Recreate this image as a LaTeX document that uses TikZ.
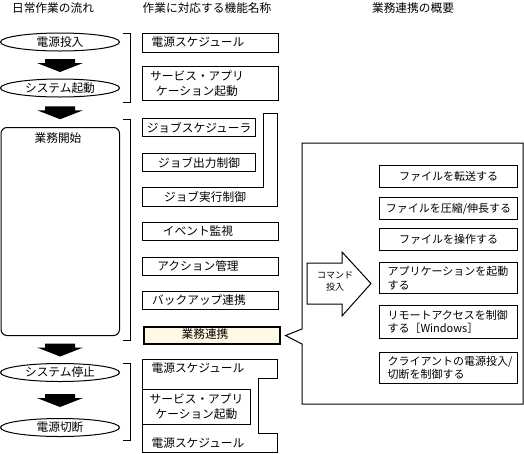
\documentclass[tikz,border=0pt]{standalone}
\usepackage{fontspec}
\setmainfont{Noto Sans CJK JP}
\usetikzlibrary{shapes.geometric, calc}
\definecolor{cream}{RGB}{255,248,226}

\begin{document}
\begin{tikzpicture}[x=1pt, y=-1pt, line width=1pt,
  every node/.style={font=\fontsize{11.7}{15}\selectfont, inner sep=0pt},
  flow/.style={draw, ellipse, minimum width=119pt, minimum height=18pt},
  fbox/.style={draw, anchor=north west, minimum width=135.5pt, minimum height=19pt},
  jbox/.style={draw, anchor=north west, minimum width=113pt, minimum height=18pt},
  rbox/.style={draw, anchor=north west, minimum width=138pt, minimum height=22pt, font=\fontsize{11}{13.5}\selectfont},
  rtwo/.style={rbox, minimum height=31pt, text width=122pt, inner xsep=8pt, align=left}]
  \path[fill=white] (0,0) rectangle (524,453);

  % 見出し
  \node (flowT) at (53,8) {日常作業の流れ};
  \node (funcT) at (207,8) {作業に対応する機能名称};
  \node (bizT) at (413,8) {業務連携の概要};

  % 日常作業の流れ
  \node[flow] (power) at (60,42) {電源投入};
  \node[flow] (boot) at (60,88) {システム起動};
  \node[draw, rounded corners=6pt, anchor=north west, minimum width=118.5pt, minimum height=208pt] (work) at (0.5,127) {};
  \node (workT) at (58,138) {業務開始};
  \node[flow] (halt) at (60,372.5) {システム停止};
  \node[flow] (off) at (60,427.5) {電源切断};
  \foreach \a/\b in {power/boot, boot/work, work/halt, halt/off}
    \fill[shift={($(\a.south)!0.5!(\b.north)$)}] (-15,-6) -- (15,-6) -- (15,-2) -- (23,-2) -- (0,7) -- (-23,-2) -- (-15,-2) -- cycle;
  \foreach \t/\b in {33/102, 119/340, 363/440}
    \draw (123,\t) -| (130,\b) -- (123,\b);

  % 作業に対応する機能
  \node[fbox] (pwrA) at (142,33) {};
  \node (pwrAt) at (198,42.5) {電源スケジュール};
  \node[fbox, minimum height=34pt] (svcA) at (142,66) {};
  \node[align=center] (svcAt) at (197,84) {サービス・アプリ\\ケーション起動};

  \draw (263,113) -- (277,113) -- (277,206) -- (142,206) -- (142,187) -- (263,187) -- cycle;
  \node (jexT) at (205,197) {ジョブ実行制御};
  \node[jbox] (jsch) at (142,118) {ジョブスケジューラ};
  \node[jbox] (jout) at (142,153) {ジョブ出力制御};

  \node[fbox, minimum height=18pt] (evt) at (142,222) {};
  \node (evtT) at (198,231) {イベント監視};
  \node[fbox, minimum height=18pt] (act) at (142,257) {};
  \node (actT) at (198,266) {アクション管理};
  \node[fbox, minimum height=18pt] (bkp) at (142,291) {};
  \node (bkpT) at (199,300) {バックアップ連携};
  \node[fbox, line width=2pt, fill=cream, minimum height=17pt] (biz) at (143,326) {};
  \node (bizM) at (205,334.5) {業務連携};

  \draw (142,359) -- (277,359) -- (277,378) -- (258,378) -- (258,433) -- (277,433) -- (277,452) -- (142,452) -- cycle;
  \node (pwrBt) at (198,368) {電源スケジュール};
  \node[draw, anchor=north west, minimum width=108pt, minimum height=35pt, align=center] (svcB) at (142,389) {サービス・アプリ\\ケーション起動};
  \node (pwrCt) at (198,443) {電源スケジュール};

  % 業務連携の概要
  \coordinate (tip) at ([xshift=5pt]biz.east);
  \draw (302,143) -- (523,143) -- (523,404) -- (302,404) -- (302,344) -- (tip) -- (302,329) -- cycle;
  \draw (307,263) -- (342,263) -- (342,252) -- (371,283.5) -- (342,316) -- (342,304) -- (307,304) -- cycle;
  \node[font=\fontsize{9}{12}\selectfont, align=center] (cmdT) at (335,281) {コマンド\\投入};

  \node[rbox] (send) at (379,165) {ファイルを転送する};
  \node[rbox] (zip) at (379,197) {ファイルを圧縮/伸長する};
  \node[rbox] (fop) at (379,228) {ファイルを操作する};
  \node[rtwo] (app) at (379,262) {アプリケーションを起動\\する};
  \node[rtwo, minimum height=33pt] (rem) at (379,305) {リモートアクセスを制御\\する［Windows］};
  \node[rtwo] (cli) at (379,352) {クライアントの電源投入/\\切断を制御する};
\end{tikzpicture}
\end{document}
